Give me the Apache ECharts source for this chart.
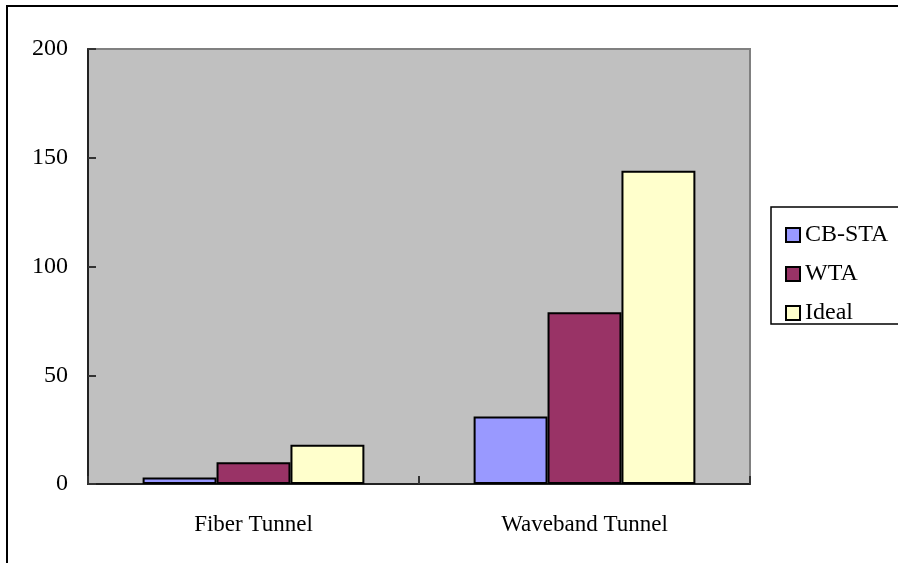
<!DOCTYPE html>
<html>
<head>
<meta charset="utf-8">
<script src="https://cdn.jsdelivr.net/npm/echarts@6/dist/echarts.min.js"></script>
<style>
  html, body { margin: 0; padding: 0; background: #fff; }
  #chart { width: 898px; height: 563px; }
</style>
</head>
<body>
<div id="chart"></div>
<script>
// Tunnel types on the x axis
const categories = ['Fiber Tunnel', 'Waveband Tunnel'];

// Series values per tunnel type
const cbStaValues = [3, 31];
const wtaValues = [10, 79];
const idealValues = [18, 144];

const seriesNames = ['CB-STA', 'WTA', 'Ideal'];
const seriesColors = ['#9999FF', '#993366', '#FFFFCC'];
const seriesValues = [cbStaValues, wtaValues, idealValues];

const FONT = 'Liberation Serif';

const chart = echarts.init(document.getElementById('chart'), null, { renderer: 'canvas' });

const series = seriesNames.map((name, i) => ({
  name: name,
  type: 'bar',
  data: seriesValues[i],
  barGap: '0%',
  barCategoryGap: '33%',
  itemStyle: { color: seriesColors[i], borderColor: '#000', borderWidth: 2 },
  emphasis: { disabled: true }
}));

chart.setOption({
  animation: false,
  backgroundColor: '#fff',
  textStyle: { fontFamily: FONT },
  grid: {
    left: 88, top: 49, right: 148, bottom: 79,
    show: true,
    backgroundColor: '#C0C0C0',
    borderColor: '#808080',
    borderWidth: 2
  },
  legend: {
    orient: 'vertical',
    left: 780,
    top: 218,
    icon: 'rect',
    itemWidth: 14,
    itemHeight: 14,
    itemGap: 15,
    selectedMode: false,
    itemStyle: { borderColor: '#000', borderWidth: 2 },
    textStyle: { fontFamily: FONT, fontSize: 24, color: '#000', lineHeight: 24, padding: [0, 0, 0, 0] },
    data: seriesNames
  },
  xAxis: {
    type: 'category',
    data: categories,
    axisLine: { lineStyle: { color: '#222', width: 2 } },
    axisTick: { show: true, inside: true, length: 8, lineStyle: { color: '#333', width: 2 } },
    axisLabel: { fontFamily: FONT, fontSize: 23, color: '#000', margin: 29 },
    splitLine: { show: false }
  },
  yAxis: {
    type: 'value',
    min: 0,
    max: 200,
    interval: 50,
    axisLine: { show: true, lineStyle: { color: '#222', width: 2 } },
    axisTick: { show: true, inside: true, length: 8, lineStyle: { color: '#333', width: 2 } },
    axisLabel: { fontFamily: FONT, fontSize: 24, color: '#000', margin: 20 },
    splitLine: { show: false }
  },
  graphic: [
    {
      type: 'rect',
      shape: { x: 7, y: 6, width: 1000, height: 1000 },
      style: { fill: 'none', stroke: '#000', lineWidth: 2 },
      silent: true,
      z: 100
    },
    {
      type: 'rect',
      shape: { x: 771, y: 207, width: 200, height: 117 },
      style: { fill: 'none', stroke: '#000', lineWidth: 1.5 },
      silent: true,
      z: 100
    }
  ],
  series: series
});
</script>
</body>
</html>
